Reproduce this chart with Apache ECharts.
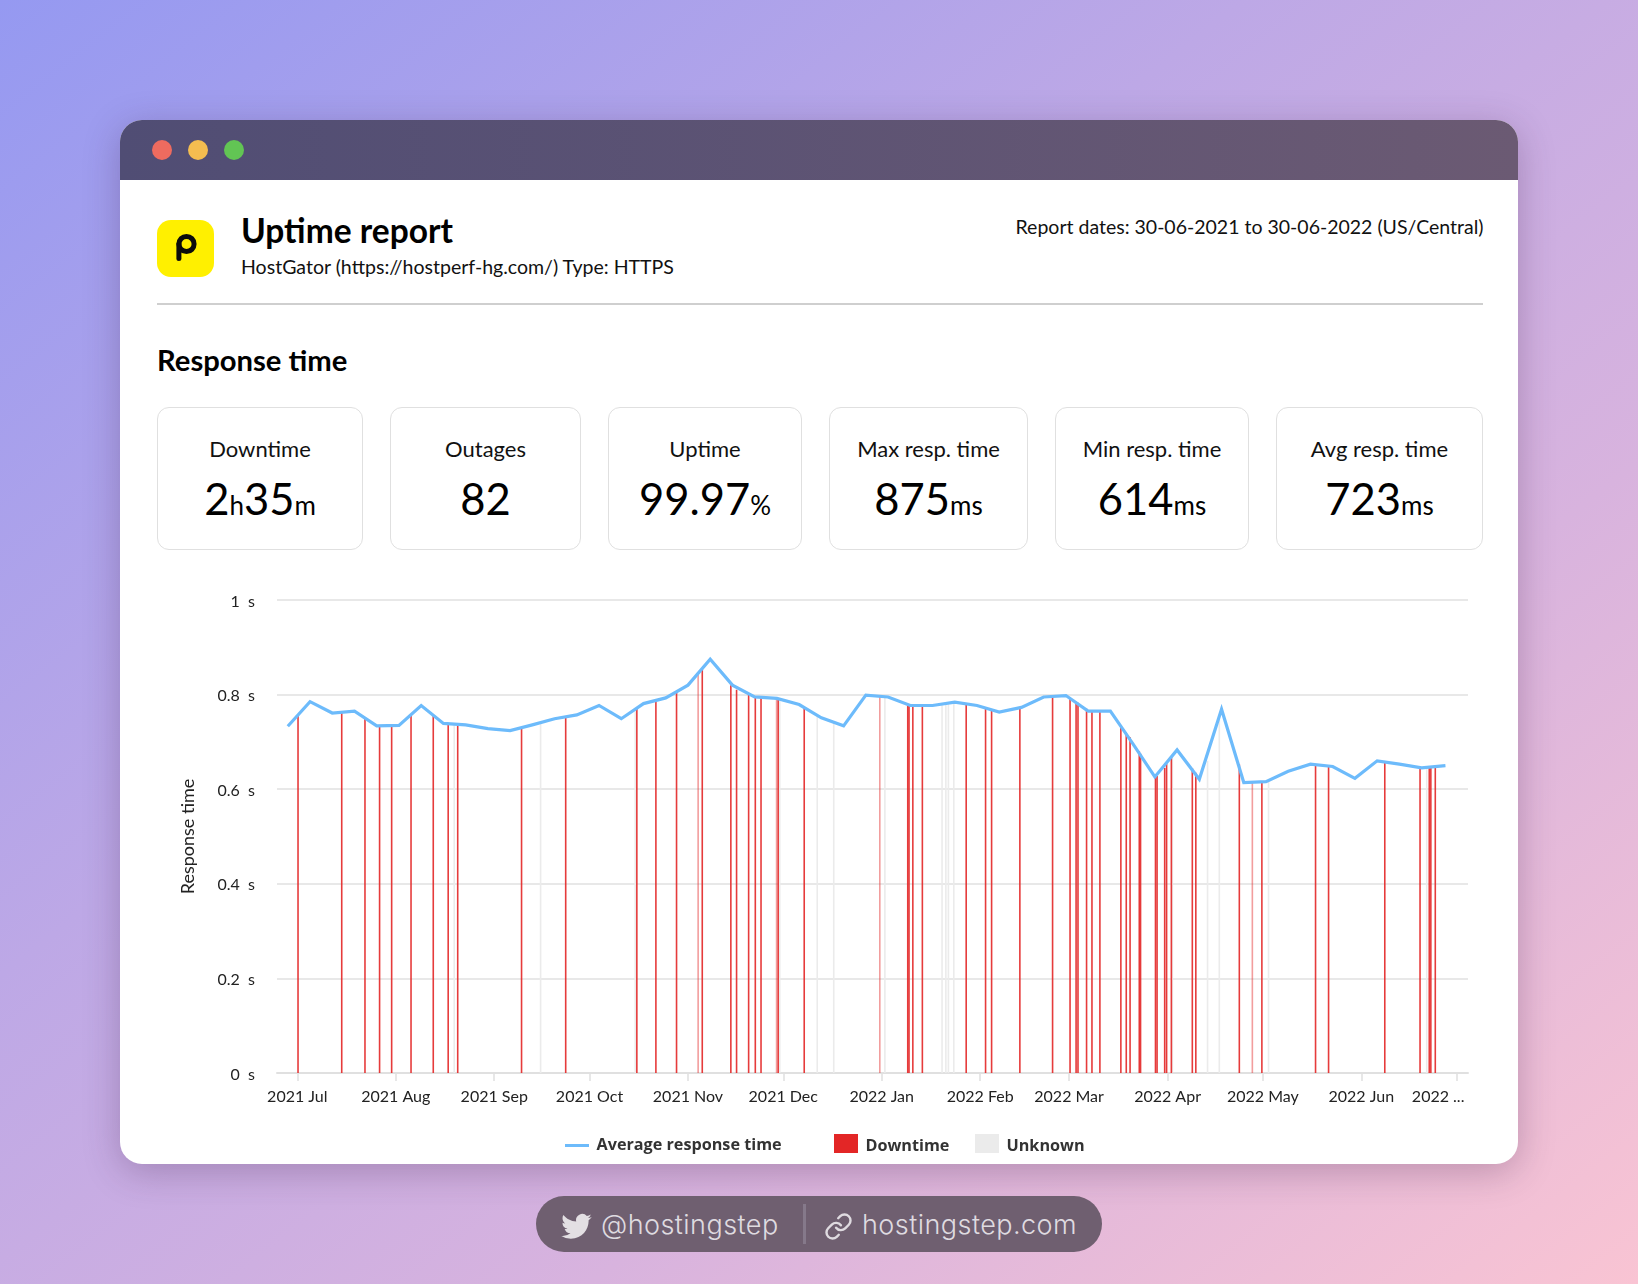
<!DOCTYPE html>
<html><head><meta charset="utf-8"><title>Uptime report</title>
<script src="https://cdn.jsdelivr.net/npm/echarts@6/dist/echarts.min.js"></script>
<style>
html,body{margin:0;padding:0;width:1638px;height:1284px;overflow:hidden}
body{background:linear-gradient(to bottom right,#9599f1 0%,#bda8e6 38%,#d8b3de 68%,#f9c4d3 100%);font-family:Lato,"Open Sans",sans-serif;color:#000;position:relative}
.abs{position:absolute;white-space:nowrap}
#win{position:absolute;left:120px;top:120px;width:1398px;height:1044px;background:#fff;border-radius:22px;box-shadow:0 8px 36px rgba(60,30,70,.28);overflow:hidden}
#bar{position:absolute;left:0;top:0;width:100%;height:60px;background:linear-gradient(90deg,#504d74,#6b5a73)}
.dot{position:absolute;width:20px;height:20px;border-radius:50%;top:140px}
.card{position:absolute;top:407px;height:141px;border:1.5px solid #e0e0e0;border-radius:12px;background:#fff;box-sizing:content-box;text-align:center}
.card .l{position:absolute;left:0;right:0;top:25px;font-size:22px;line-height:32px;color:#111}
.card .v{position:absolute;left:0;right:0;top:60px;font-size:43.5px;line-height:60px;color:#000}
.card .v small{font-size:26px}
#main{position:absolute;left:0;top:0;width:1638px;height:1284px;z-index:5}
#pill{position:absolute;left:536px;top:1196px;width:566px;height:56px;border-radius:28px;background:#6f5f70}
.foot{font-family:Inter,Roboto,sans-serif;font-weight:300;font-size:27px;line-height:40px;color:#dfdbe0;letter-spacing:.45px}
</style></head><body>
<div id="win"><div id="bar"></div></div>
<div class="dot" style="left:152px;background:#ee6b5f"></div>
<div class="dot" style="left:188px;background:#f4bd50"></div>
<div class="dot" style="left:224px;background:#62c554"></div>
<svg class="abs" style="left:157px;top:220px" width="57" height="57" viewBox="0 0 57 57"><rect width="57" height="57" rx="14" fill="#fff000"/><circle cx="29.5" cy="24" r="7.6" fill="none" stroke="#0b0b0b" stroke-width="5"/><path d="M21.9 24V38.5" stroke="#0b0b0b" stroke-width="5" stroke-linecap="round"/></svg>
<div class="abs" style="left:241px;top:210px;font-size:33.5px;line-height:40px;font-weight:700">Uptime report</div>
<div class="abs" style="left:241px;top:254px;font-size:19.55px;line-height:26px;color:#111">HostGator (https://hostperf-hg.com/) Type: HTTPS</div>
<div class="abs" style="right:154.5px;top:214px;font-size:19.5px;line-height:26px;color:#111">Report dates: 30-06-2021 to 30-06-2022 (US/Central)</div>
<div class="abs" style="left:157px;top:303px;width:1326px;height:1.5px;background:#cfcfcf"></div>
<div class="abs" style="left:157px;top:342px;font-size:29.2px;line-height:36px;font-weight:700">Response time</div>
<div class="card" style="left:157px;width:204px"><div class="l">Downtime</div><div class="v">2<small>h</small>35<small>m</small></div></div>
<div class="card" style="left:390px;width:189px"><div class="l">Outages</div><div class="v">82</div></div>
<div class="card" style="left:608px;width:192px"><div class="l">Uptime</div><div class="v">99.97<small>%</small></div></div>
<div class="card" style="left:829px;width:197px"><div class="l">Max resp. time</div><div class="v">875<small>ms</small></div></div>
<div class="card" style="left:1055px;width:192px"><div class="l">Min resp. time</div><div class="v">614<small>ms</small></div></div>
<div class="card" style="left:1276px;width:205px"><div class="l">Avg resp. time</div><div class="v">723<small>ms</small></div></div>
<div id="pill"></div>
<svg class="abs" style="left:561px;top:1213px" width="31" height="26" viewBox="0 1.5 24 20.5"><path fill="#e3dfe3" d="M23.953 4.57a10 10 0 01-2.825.775 4.958 4.958 0 002.163-2.723c-.951.555-2.005.959-3.127 1.184a4.92 4.92 0 00-8.384 4.482C7.69 8.095 4.067 6.13 1.64 3.162a4.822 4.822 0 00-.666 2.475c0 1.71.87 3.213 2.188 4.096a4.904 4.904 0 01-2.228-.616v.06a4.923 4.923 0 003.946 4.827 4.996 4.996 0 01-2.212.085 4.936 4.936 0 004.604 3.417 9.867 9.867 0 01-6.102 2.105c-.39 0-.779-.023-1.17-.067a13.995 13.995 0 007.557 2.209c9.053 0 13.998-7.496 13.998-13.985 0-.21 0-.42-.015-.63A9.935 9.935 0 0024 4.59z"/></svg>
<div class="abs foot" style="left:601px;top:1205px">@hostingstep</div>
<div class="abs" style="left:802.5px;top:1204px;width:3px;height:40px;background:#85798a"></div>
<svg class="abs" style="left:824px;top:1212px" width="29" height="29" viewBox="0 0 24 24" fill="none" stroke="#dfdbe0" stroke-width="2" stroke-linecap="round" stroke-linejoin="round"><path d="M10 13a5 5 0 0 0 7.54.54l3-3a5 5 0 0 0-7.07-7.07l-1.72 1.71"/><path d="M14 11a5 5 0 0 0-7.54-.54l-3 3a5 5 0 0 0 7.07 7.07l1.71-1.71"/></svg>
<div class="abs foot" style="left:862px;top:1205px">hostingstep.com</div>
<div id="main"></div>
<script>
// all x values are days since 2021-07-01
const monthTickDays = [0,31,62,92,123,153,184,215,243,274,304,335,365];
const monthLabelDays = [0,31,62,92,123,153,184,215,243,274,304,335,359.2];
const monthLabels = ['2021 Jul','2021 Aug','2021 Sep','2021 Oct','2021 Nov','2021 Dec','2022 Jan','2022 Feb','2022 Mar','2022 Apr','2022 May','2022 Jun','2022 ...'];
const yTicks = [0,0.2,0.4,0.6,0.8,1];
const avgDays = [-3,4,11,18,25,32,39,46,53,60,67,74,81,88,95,102,109,116,123,130,137,144,151,158,165,172,179,186,193,200,207,214,221,228,235,242,249,256,263,270,277,284,291,298,305,312,319,326,333,340,347,354,361.5];
const avgSeconds = [.733,.785,.761,.765,.734,.735,.777,.739,.736,.728,.724,.736,.749,.757,.777,.749,.781,.793,.820,.875,.820,.795,.792,.779,.751,.734,.799,.795,.777,.777,.784,.777,.763,.773,.795,.798,.765,.765,.697,.626,.683,.621,.769,.614,.616,.638,.653,.648,.623,.660,.653,.645,.650];
const downDays = [.22,13.98,21.3,25.9,29.7,35.8,42.8,47.5,50.5,70.6,84.5,106.9,112.9,119.4,126.2,127.5,136.5,138.3,142.1,144.2,146,150.9,151.4,159.6,183.4,192.2,192.6,193.8,196.8,210.6,216.7,218.6,227.5,237.8,243.3,245.2,245.8,248.5,250.2,252.7,259.3,261,262.2,265.1,265.5,270.2,270.7,273.1,273.7,275.2,281.8,282.9,296.6,300.7,303.7,320.6,324.7,342.4,353.5,356.4,356.9,358.3];
const downSeconds = [.755,.762,.752,.734,.735,.755,.757,.739,.737,.729,.752,.770,.787,.805,.845,.855,.820,.810,.800,.795,.794,.792,.792,.775,.797,.780,.779,.777,.777,.780,.772,.768,.772,.796,.795,.785,.783,.770,.765,.765,.735,.720,.710,.680,.675,.627,.628,.645,.655,.668,.645,.635,.653,.615,.615,.652,.649,.658,.646,.647,.647,.648];
const faintDownDays = [126.2,150.9,183.4,300.7];
const unknownDays = [49.4,76.6,106.4,151.9,163.7,168.9,185,203,204.2,205,206.7,275.5,286.6,290.3,305.8,355.6];
const unknownSeconds = [.738,.740,.765,.790,.755,.742,.796,.780,.780,.782,.784,.670,.660,.750,.616,.647];

const chart = echarts.init(document.getElementById('main'), null, {width:1638,height:1284});
const font = 'Lato, "Open Sans", sans-serif';
const legendBase = {fontFamily:'"Open Sans", sans-serif',fontWeight:'bold',fontSize:16.2,color:'#333'};
const legendRich = {...legendBase,rich:{t:{...legendBase,padding:[6,0,0,2.5]}}};
chart.setOption({
  animation:false,
  grid:{left:277,top:600,width:1191,height:473,containLabel:false},
  xAxis:{type:'value',min:-6.4,max:368.6,containShape:false,
    splitLine:{show:false},
    axisLine:{show:true,lineStyle:{color:'#e0e0e0',width:2}},
    axisTick:{show:true,length:8,customValues:monthTickDays,lineStyle:{color:'#e0e0e0',width:1.5}},
    axisLabel:{customValues:monthLabelDays,margin:16,fontFamily:font,fontSize:16,color:'#222',hideOverlap:false,showMinLabel:true,showMaxLabel:true,
      formatter:v=>monthLabels[monthLabelDays.indexOf(v)]}},
  yAxis:{type:'value',min:0,max:1,interval:.2,
    name:'Response time',nameLocation:'middle',nameGap:80,nameTextStyle:{fontFamily:font,fontSize:18,color:'#222'},
    axisLine:{show:false},axisTick:{show:false},
    splitLine:{show:true,lineStyle:{color:'#e0e0e0',width:1.5}},
    axisLabel:{margin:22,rich:{t:{fontFamily:font,fontSize:16,color:'#222',padding:[3,0,0,0]}},formatter:v=>yTicks.includes(v)?'{t|'+v+'  s}':''}},
  legend:[
    {data:[{name:'Average response time',icon:'rect'}],left:565,top:1137.5,padding:0,itemWidth:24,itemHeight:3,selectedMode:false,textStyle:{...legendBase,padding:[0,0,0,2.5]}},
    {data:[{name:'Downtime',icon:'rect'}],left:834,top:1134,padding:0,itemWidth:24,itemHeight:19,selectedMode:false,formatter:'{t|{name}}',textStyle:legendRich},
    {data:[{name:'Unknown',icon:'rect'}],left:975,top:1134,padding:0,itemWidth:24,itemHeight:19,selectedMode:false,formatter:'{t|{name}}',textStyle:legendRich}
  ],
  series:[
    {name:'Unknown',type:'bar',barWidth:1.6,barGap:'-100%',itemStyle:{color:'#ebebeb'},z:2,
      data:unknownDays.map((d,i)=>[d,unknownSeconds[i]])},
    {name:'Downtime',type:'bar',barWidth:1.6,barGap:'-100%',itemStyle:{color:'#e32626'},z:3,
      data:downDays.map((d,i)=>({value:[d,downSeconds[i]],itemStyle:{opacity:faintDownDays.includes(d)?.45:.9}}))},
    {name:'Average response time',type:'line',showSymbol:false,z:4,lineStyle:{width:3.2,color:'#6dbbfb',join:'miter'},itemStyle:{color:'#6dbbfb'},
      data:avgDays.map((d,i)=>[d,avgSeconds[i]])}
  ]
});
</script></body></html>
